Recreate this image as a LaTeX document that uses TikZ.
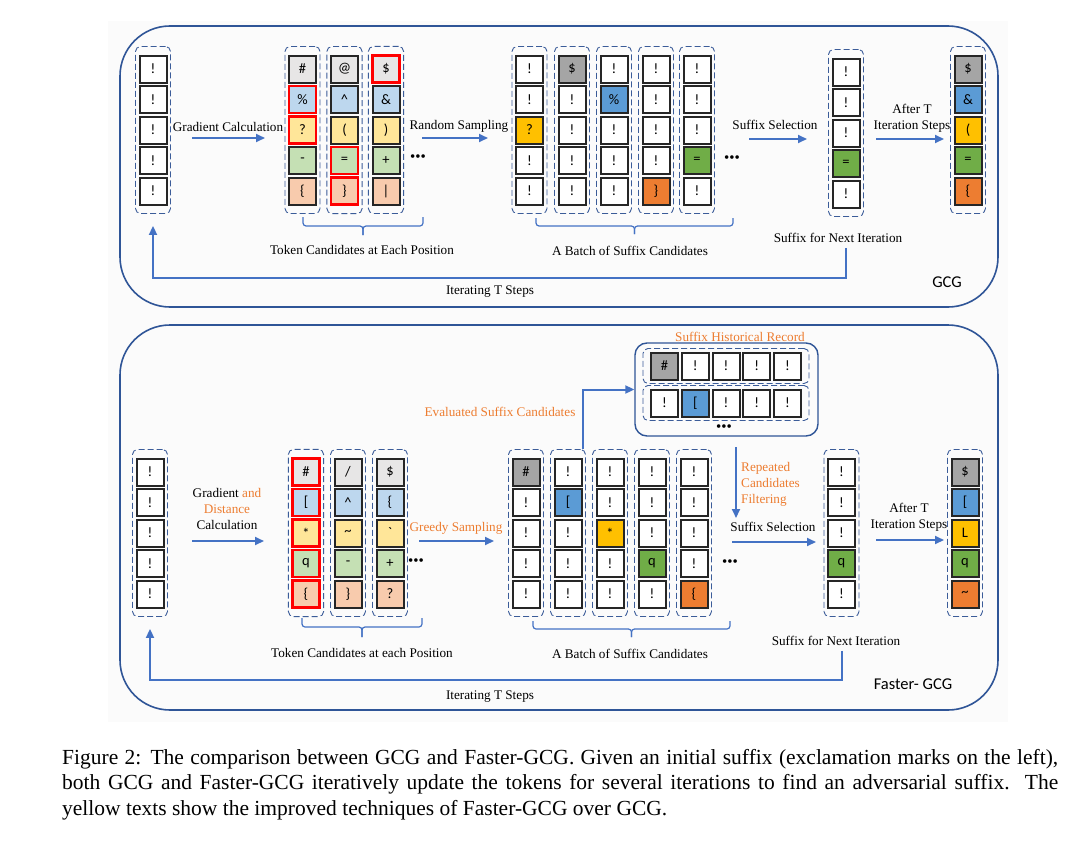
\documentclass[tikz,border=0pt]{standalone}
\usepackage{fontspec}
\setmainfont{Liberation Serif}
\newfontfamily\tokf{Carlito}
\usetikzlibrary{arrows.meta,fit,calc}
\definecolor{cgl}{HTML}{E7E6E6}
\definecolor{cbl}{HTML}{BDD7EE}
\definecolor{cyl}{HTML}{FFE699}
\definecolor{cgrl}{HTML}{C5E0B4}
\definecolor{col}{HTML}{F8CBAD}
\definecolor{cgd}{HTML}{A5A5A5}
\definecolor{cbd}{HTML}{5B9BD5}
\definecolor{cyd}{HTML}{FFC000}
\definecolor{cgrd}{HTML}{70AD47}
\definecolor{cod}{HTML}{ED7D31}
\definecolor{corange}{HTML}{ED7D31}
\definecolor{tokline}{HTML}{262626}
\definecolor{dashc}{HTML}{3B5C99}
\definecolor{arrc}{HTML}{4472C4}
\definecolor{panelc}{HTML}{2F5597}
\definecolor{bgc}{HTML}{FBFBFB}
\tikzset{
  tok/.style={draw=tokline, line width=2bp, minimum width=27bp, minimum height=27bp, inner sep=0pt, fill=white, font=\tokf\fontsize{14.5bp}{14.5bp}\selectfont},
  w/.style={},
  gl/.style={fill=cgl}, bl/.style={fill=cbl}, yl/.style={fill=cyl}, grl/.style={fill=cgrl}, ol/.style={fill=col},
  redb/.style={draw=red, line width=2.2bp},
  glR/.style={gl,redb}, blR/.style={bl,redb}, ylR/.style={yl,redb}, grlR/.style={grl,redb}, olR/.style={ol,redb},
  gd/.style={fill=cgd}, bd/.style={fill=cbd}, yd/.style={fill=cyd}, grd/.style={fill=cgrd}, od/.style={fill=cod},
  dcol/.style={draw=dashc, line width=0.9bp, dash pattern=on 6bp off 3bp, rounded corners=5bp, inner xsep=3bp, inner ysep=8bp},
  flow/.style={draw=arrc, line width=2bp, -{Triangle[length=9bp,width=8bp]}},
  lbl/.style={font=\fontsize{13.2bp}{16bp}\selectfont, inner sep=0pt, align=center},
  olbl/.style={lbl, text=corange},
  brc/.style={draw=arrc, line width=1.2bp, rounded corners=3bp},
  panel/.style={draw=panelc, line width=1.6bp, rounded corners=50bp},
  histbox/.style={draw=panelc, line width=1.4bp, rounded corners=12bp, inner sep=0pt},
  dotstxt/.style={font=\fontsize{15bp}{15bp}\selectfont, inner sep=0pt},
  gcg/.style={font=\tokf\fontsize{16.5bp}{18bp}\selectfont, inner sep=0pt},
  captxt/.style={font=\fontsize{21.5bp}{25.5bp}\selectfont, inner sep=0pt},
}
\newcommand\tcol[4]{%
  \foreach \tk/\st [count=\i] in {#4}{\node[tok,\st] (#1-\i) at (#2,{#3+(\i-1)*30.5}) {\tk};}%
  \node[dcol,fit=(#1-1)(#1-5)] (#1) {};}
\newcommand\trow[4]{%
  \foreach \tk/\st [count=\i] in {#4}{\node[tok,\st] (#1-\i) at ({#2+(\i-1)*30.75},#3) {\tk};}%
  \node[dcol,inner xsep=7bp,inner ysep=3bp,fit=(#1-1)(#1-5)] (#1) {};}
\begin{document}
\begin{tikzpicture}[x=1bp,y=-1bp]
\useasboundingbox (0,0) rectangle (1088,844);
\fill[white] (0,0) rectangle (1088,844);
\fill[bgc] (108,21) rectangle (1008,722);
% ---------------- top panel -----------------
\draw[panel] (120,26) rectangle (998,307);
\tcol{ti}{153}{69}{{!}/w,{!}/w,{!}/w,{!}/w,{!}/w}
\tcol{tc1}{302.5}{69}{{\#}/gl,{\%}/blR,{?}/ylR,{-}/grl,{\{}/ol}
\tcol{tc2}{344.5}{69}{{@}/gl,{\textasciicircum}/bl,{(}/yl,{=}/grlR,{\}}/olR}
\tcol{tc3}{386}{69}{{\$}/glR,{\&}/bl,{)}/yl,{+}/grl,{\textbar}/ol}
\tcol{tb1}{529.5}{69}{{!}/w,{!}/w,{?}/yd,{!}/w,{!}/w}
\tcol{tb2}{572}{69}{{\$}/gd,{!}/w,{!}/w,{!}/w,{!}/w}
\tcol{tb3}{614}{69}{{!}/w,{\%}/bd,{!}/w,{!}/w,{!}/w}
\tcol{tb4}{656}{69}{{!}/w,{!}/w,{!}/w,{!}/w,{\}}/od}
\tcol{tb5}{697}{69}{{!}/w,{!}/w,{!}/w,{=}/grd,{!}/w}
\tcol{tn}{846}{72}{{!}/w,{!}/w,{!}/w,{=}/grd,{!}/w}
\tcol{tf}{968}{69}{{\$}/gd,{\&}/bd,{(}/yd,{=}/grd,{\{}/od}
\node[lbl] (tgl) at (228,127) {Gradient Calculation};
\node[lbl] (trl) at (459,126) {Random Sampling};
\node[lbl] (tsl) at (775,125) {Suffix Selection};
\node[lbl] (tal) at (912,118) {After T\\Iteration Steps};
\node[lbl] (tcl) at (362,250) {Token Candidates at Each Position};
\node[lbl] (tbl) at (630,251) {A Batch of Suffix Candidates};
\node[lbl] (tnl) at (838,238) {Suffix for Next Iteration};
\node[lbl] (til) at (490,292) {Iterating T Steps};
\node[gcg] (tgcg) at (947,282) {GCG};
\node[dotstxt] (td1) at (418,158) {\textbullet\textbullet\textbullet};
\node[dotstxt] (td2) at (732,159) {\textbullet\textbullet\textbullet};
\coordinate (ta1s) at (192,138); \coordinate (ta1e) at (265,138);
\coordinate (ta2s) at (422,138); \coordinate (ta2e) at (488,138);
\coordinate (ta3s) at (749,139); \coordinate (ta3e) at (807,139);
\coordinate (ta4s) at (876,139); \coordinate (ta4e) at (944,139);
\draw[flow] (ta1s) -- (ta1e);
\draw[flow] (ta2s) -- (ta2e);
\draw[flow] (ta3s) -- (ta3e);
\draw[flow] (ta4s) -- (ta4e);
\draw[brc] (303,217) |- (363,226) -- (363,235);
\draw[brc] (363,235) -- (363,226) -| (423,217);
\draw[brc] (536,218) |- (634.5,226) -- (634.5,234);
\draw[brc] (634.5,234) -- (634.5,226) -| (733,218);
\coordinate (tloop) at (846,278);
\coordinate (tls) at ($(tn |- tnl.south)+(0,5)$);
\draw[flow] (tls) -- (tls |- tloop) -| ([yshift=-12bp]ti.south);
% ---------------- bottom panel -----------------
\draw[panel] (120,325) rectangle (998,710);
\tcol{bi}{150}{472}{{!}/w,{!}/w,{!}/w,{!}/w,{!}/w}
\tcol{bc1}{306}{472}{{\#}/glR,{[}/blR,{*}/ylR,{q}/grlR,{\{}/olR}
\tcol{bc2}{348}{472}{{/}/gl,{\textasciicircum}/bl,{\textasciitilde}/yl,{-}/grl,{\}}/ol}
\tcol{bc3}{390}{472}{{\$}/gl,{\{}/bl,{\textasciigrave}/yl,{+}/grl,{?}/ol}
\tcol{bb1}{526}{472}{{\#}/gd,{!}/w,{!}/w,{!}/w,{!}/w}
\tcol{bb2}{568}{472}{{!}/w,{[}/bd,{!}/w,{!}/w,{!}/w}
\tcol{bb3}{610}{472}{{!}/w,{!}/w,{*}/yd,{!}/w,{!}/w}
\tcol{bb4}{652}{472}{{!}/w,{!}/w,{!}/w,{q}/grd,{!}/w}
\tcol{bb5}{694}{472}{{!}/w,{!}/w,{!}/w,{!}/w,{\{}/od}
\tcol{bn}{841.5}{472}{{!}/w,{!}/w,{!}/w,{q}/grd,{!}/w}
\tcol{bf}{965}{472}{{\$}/gd,{[}/bd,{L}/yd,{q}/grd,{\textasciitilde}/od}
\node[histbox, minimum width=183bp, minimum height=93bp] (hist) at (726.5,389.5) {};
\trow{h1}{664.5}{366}{{\#}/gd,{!}/w,{!}/w,{!}/w,{!}/w}
\trow{h2}{664.5}{403}{{!}/w,{[}/bd,{!}/w,{!}/w,{!}/w}
\node[dotstxt] (hd) at (724,428) {\textbullet\textbullet\textbullet};
\node[olbl] (htl) at (740,337) {Suffix Historical Record};
\node[lbl] (bgl) at (227,509) {Gradient {\color{corange}and}\\{\color{corange}Distance}\\Calculation};
\node[olbl] (bgs) at (456,528) {Greedy Sampling};
\node[lbl] (bsl) at (773,527) {Suffix Selection};
\node[lbl] (bal) at (909,517.5) {After T\\Iteration Steps};
\node[olbl] (bev) at (500,412) {Evaluated Suffix Candidates};
\node[olbl, anchor=west, align=left] (bfl) at (741,484) {Repeated\\Candidates\\Filtering};
\node[lbl] (bcl) at (362,653) {Token Candidates at each Position};
\node[lbl] (bbl) at (630,654) {A Batch of Suffix Candidates};
\node[lbl] (bnl) at (836,641) {Suffix for Next Iteration};
\node[lbl] (bil) at (490,697) {Iterating T Steps};
\node[gcg] (bgcg) at (913,684) {Faster- GCG};
\node[dotstxt] (bd1) at (416,562) {\textbullet\textbullet\textbullet};
\node[dotstxt] (bd2) at (730,563) {\textbullet\textbullet\textbullet};
\coordinate (ba1s) at (192,541); \coordinate (ba1e) at (264,541);
\coordinate (ba2s) at (419,541); \coordinate (ba2e) at (494,541);
\coordinate (ba3s) at (732,542); \coordinate (ba3e) at (816,542);
\coordinate (ba4s) at (876,540); \coordinate (ba4e) at (944,540);
\draw[flow] (ba1s) -- (ba1e);
\draw[flow] (ba2s) -- (ba2e);
\draw[flow] (ba3s) -- (ba3e);
\draw[flow] (ba4s) -- (ba4e);
\draw[flow] ([xshift=-3bp]bb2.north east) |- (hist.west);
\coordinate (bfs) at (736,447); \coordinate (bfe) at (736,518);
\draw[flow] (bfs) -- (bfe);
\draw[brc] (302,618) |- (362,627) -- (362,637);
\draw[brc] (362,637) -- (362,627) -| (422,618);
\draw[brc] (533,621) |- (631.5,629) -- (631.5,637);
\draw[brc] (631.5,637) -- (631.5,629) -| (730,621);
\coordinate (bloop) at (841,680);
\coordinate (bls) at ($(bn |- bnl.south)+(0,5)$);
\draw[flow] (bls) -- (bls |- bloop) -| ([yshift=-12bp]bi.south);
% ---------------- caption -----------------
\node[captxt, anchor=base west] (cap1) at (62,764) {\makebox[996bp][s]{Figure 2: The comparison between GCG and Faster-GCG. Given an initial suffix (exclamation marks on the left),}};
\node[captxt, anchor=base west] (cap2) at (62,789.5) {\makebox[996bp][s]{both GCG and Faster-GCG iteratively update the tokens for several iterations to find an adversarial suffix.\ \ The}};
\node[captxt, anchor=base west] (cap3) at (62,815) {yellow texts show the improved techniques of Faster-GCG over GCG.};
\end{tikzpicture}
\end{document}
